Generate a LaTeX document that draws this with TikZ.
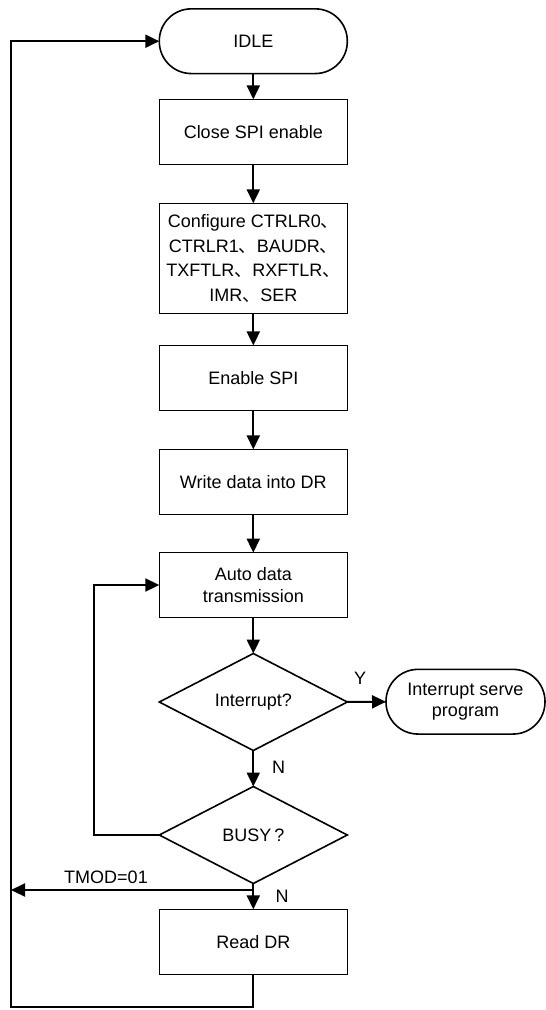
\documentclass[tikz,border=0pt]{standalone}
\usepackage{fontspec}
\setmainfont{Liberation Sans}
\newfontfamily\cjk{Noto Sans CJK SC}
\usetikzlibrary{shapes.geometric,arrows.meta}
\tikzset{
  base/.style={outer sep=0pt, inner sep=2pt, align=center, font=\fontsize{18}{21.5}\selectfont},
  procbox/.style={base, draw, line width=1pt, minimum width=188pt, minimum height=64.7pt},
  termbox/.style={base, draw, line width=1.6pt, rounded corners=32pt, minimum height=64.7pt},
  decbox/.style={base, draw, line width=1.6pt, diamond, aspect=1.94, inner sep=0pt, minimum width=188pt, minimum height=97pt},
  conn/.style={line width=2pt, -{Triangle[length=14pt,width=13pt]}},
  plainline/.style={line width=2pt},
  lbl/.style={font=\fontsize{18}{21.5}\selectfont, inner sep=0pt}
}
\begin{document}
\begin{tikzpicture}[x=1pt,y=1pt]
\useasboundingbox (0,0) rectangle (546,-1010);
\node[termbox, minimum width=188pt] (idle) at (253.3,-41.2) {IDLE};
\node[procbox] (close) at (253.3,-131.7) {Close SPI enable};
\node[procbox, minimum height=110pt, font=\fontsize{18}{24.5}\selectfont] (config) at (253.3,-258.3)
  {Configure CTRLR0{\cjk 、}\\CTRLR1{\cjk 、}BAUDR{\cjk 、}\\TXFTLR{\cjk 、}RXFTLR{\cjk 、}\\IMR{\cjk 、}SER};
\node[procbox] (enable) at (253.3,-377.8) {Enable SPI};
\node[procbox] (write) at (253.3,-481.7) {Write data into DR};
\node[procbox] (auto) at (253.3,-585) {Auto data\\transmission};
\node[decbox] (intr) at (253.3,-702) {Interrupt?};
\node[termbox, minimum width=159pt] (isr) at (465.5,-701.7) {Interrupt serve\\program};
\node[decbox] (busy) at (253.3,-835) {BUSY\,?};
\node[procbox] (rdr) at (253.3,-941.7) {Read DR};

\coordinate (leftx) at (11,0);
\coordinate (loopx) at (94.3,0);
\coordinate (tmod) at (253.3,-890);
\coordinate (bot) at (253.3,-1006.7);

\draw[conn] (idle) -- (close);
\draw[conn] (close) -- (config);
\draw[conn] (config) -- (enable);
\draw[conn] (enable) -- (write);
\draw[conn] (write) -- (auto);
\draw[conn] (auto) -- (intr);
\draw[conn] (intr) -- (isr);
\draw[conn] (intr) -- (busy);
\draw[conn] (busy) -- (rdr);
\draw[conn] (busy.west) -- (busy.west -| loopx) |- (auto.west);
\draw[conn] (tmod) -- (tmod -| leftx);
\draw[conn] (rdr.south) -- (bot) -- (bot -| leftx) |- (idle.west);

\node[lbl] (ylbl) at (360,-678) {Y};
\node[lbl] (n1) at (278.5,-767) {N};
\node[lbl] (n2) at (282,-896) {N};
\node[lbl] (tmodlbl) at (106,-877) {TMOD=01};
\end{tikzpicture}
\end{document}
